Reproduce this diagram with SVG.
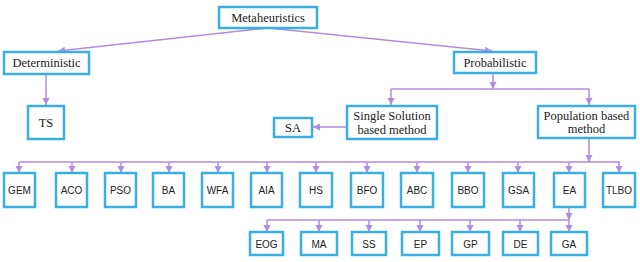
<svg xmlns="http://www.w3.org/2000/svg" width="640" height="262" viewBox="0 0 640 262">
<defs>
<marker id="ah" markerUnits="userSpaceOnUse" markerWidth="8" markerHeight="8" refX="7" refY="3.5" orient="auto">
<path d="M0,0 L7,3.5 L0,7 z" fill="#b28be0"/>
</marker>
<style>
.box{fill:#fff;stroke:#3aafe3;stroke-width:2.5}
.ln{fill:none;stroke:#b28be0;stroke-width:1.5}
.ar{fill:none;stroke:#b28be0;stroke-width:1.5;marker-end:url(#ah)}
.s{font-family:"Liberation Serif","Times New Roman",serif;font-size:12.5px;fill:#222;text-anchor:middle}
.a{font-family:"Liberation Sans",Arial,sans-serif;font-size:10px;fill:#222;text-anchor:middle}
</style>
</defs>
<rect width="640" height="262" fill="#fff"/>
<g id="connectors">
<path class="ar" d="M268,28 L58,51"/>
<path class="ar" d="M268,28 L492,51"/>
<path class="ar" d="M46,74 L46,105"/>
<path class="ar" d="M493,73 L493,89"/>
<path class="ln" d="M391,89 L589,89"/>
<path class="ar" d="M391,89 L391,105"/>
<path class="ar" d="M589,89 L589,105"/>
<path class="ar" d="M347,127 L313,127"/>
<path class="ar" d="M589,138 L589,162"/>
<path class="ln" d="M19,162 L620,162"/>
<path class="ar" d="M19,162 V173"/>
<path class="ar" d="M72,162 V173"/>
<path class="ar" d="M121,162 V173"/>
<path class="ar" d="M169,162 V173"/>
<path class="ar" d="M218,162 V173"/>
<path class="ar" d="M267,162 V173"/>
<path class="ar" d="M316,162 V173"/>
<path class="ar" d="M367,162 V173"/>
<path class="ar" d="M417,162 V173"/>
<path class="ar" d="M468,162 V173"/>
<path class="ar" d="M518,162 V173"/>
<path class="ar" d="M569,162 V173"/>
<path class="ar" d="M619,162 V173"/>
<path class="ar" d="M569,207 V220"/>
<path class="ln" d="M267,220 L569,220"/>
<path class="ar" d="M267,220 V232"/>
<path class="ar" d="M319,220 V232"/>
<path class="ar" d="M369,220 V232"/>
<path class="ar" d="M420,220 V232"/>
<path class="ar" d="M470,220 V232"/>
<path class="ar" d="M520,220 V232"/>
<path class="ar" d="M569,220 V232"/>
</g>
<g id="n-meta"><rect class="box" x="219" y="7" width="98" height="21"/><text class="s" x="268" y="22">Metaheuristics</text></g>
<g id="n-det"><rect class="box" x="4" y="52" width="85" height="22"/><text class="s" x="46.5" y="67">Deterministic</text></g>
<g id="n-ts"><rect class="box" x="28" y="106" width="36" height="33"/><text class="s" x="46" y="127">TS</text></g>
<g id="n-sa"><rect class="box" x="274" y="118" width="38" height="19"/><text class="s" x="293" y="131.5">SA</text></g>
<g id="n-prob"><rect class="box" x="454" y="52" width="82" height="21"/><text class="s" x="495" y="66.5">Probabilistic</text></g>
<g id="n-single"><rect class="box" x="347" y="106" width="90" height="33"/><text class="s" x="392" y="120">Single Solution</text><text class="s" x="392" y="134">based method</text></g>
<g id="n-pop"><rect class="box" x="538" y="106" width="97" height="32"/><text class="s" x="586.5" y="120">Population based</text><text class="s" x="586.5" y="133">method</text></g>
<g id="n-gem"><rect class="box" x="4" y="173" width="31" height="34"/><text class="a" x="19.5" y="194">GEM</text></g>
<g id="n-aco"><rect class="box" x="56" y="173" width="31" height="34"/><text class="a" x="71.5" y="194">ACO</text></g>
<g id="n-pso"><rect class="box" x="105" y="173" width="31" height="34"/><text class="a" x="120.5" y="194">PSO</text></g>
<g id="n-ba"><rect class="box" x="153" y="173" width="31" height="34"/><text class="a" x="168.5" y="194">BA</text></g>
<g id="n-wfa"><rect class="box" x="202" y="173" width="31" height="34"/><text class="a" x="217.5" y="194">WFA</text></g>
<g id="n-aia"><rect class="box" x="251" y="173" width="31" height="34"/><text class="a" x="266.5" y="194">AIA</text></g>
<g id="n-hs"><rect class="box" x="300" y="173" width="32" height="34"/><text class="a" x="316" y="194">HS</text></g>
<g id="n-bfo"><rect class="box" x="351" y="173" width="32" height="34"/><text class="a" x="367" y="194">BFO</text></g>
<g id="n-abc"><rect class="box" x="401" y="173" width="32" height="34"/><text class="a" x="417" y="194">ABC</text></g>
<g id="n-bbo"><rect class="box" x="452" y="173" width="32" height="34"/><text class="a" x="468" y="194">BBO</text></g>
<g id="n-gsa"><rect class="box" x="503" y="173" width="31" height="34"/><text class="a" x="518.5" y="194">GSA</text></g>
<g id="n-ea"><rect class="box" x="554" y="173" width="31" height="34"/><text class="a" x="569.5" y="194">EA</text></g>
<g id="n-tlbo"><rect class="box" x="603" y="173" width="32" height="34"/><text class="a" x="619" y="194">TLBO</text></g>
<g id="n-eog"><rect class="box" x="250" y="232" width="33" height="23"/><text class="a" x="266.5" y="247.5">EOG</text></g>
<g id="n-ma"><rect class="box" x="301" y="232" width="36" height="23"/><text class="a" x="319" y="247.5">MA</text></g>
<g id="n-ss"><rect class="box" x="352" y="232" width="34" height="23"/><text class="a" x="369" y="247.5">SS</text></g>
<g id="n-ep"><rect class="box" x="402" y="232" width="37" height="23"/><text class="a" x="420.5" y="247.5">EP</text></g>
<g id="n-gp"><rect class="box" x="452" y="232" width="37" height="23"/><text class="a" x="470.5" y="247.5">GP</text></g>
<g id="n-de"><rect class="box" x="503" y="232" width="35" height="23"/><text class="a" x="520.5" y="247.5">DE</text></g>
<g id="n-ga"><rect class="box" x="551" y="232" width="36" height="23"/><text class="a" x="569" y="247.5">GA</text></g>
</svg>
